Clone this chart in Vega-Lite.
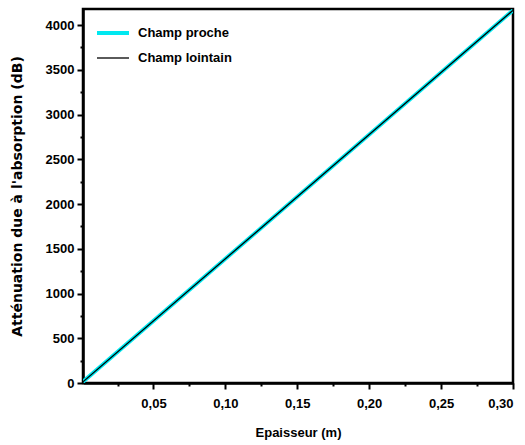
{
  "$schema": "https://vega.github.io/schema/vega-lite/v6.json",
  "width": 430,
  "height": 374,
  "padding": {"left": 83, "top": 9, "right": 12, "bottom": 62},
  "autosize": {"type": "none"},
  "background": "white",
  "config": {
    "font": "Liberation Sans",
    "view": {"stroke": "black", "strokeWidth": 2.5}
  },
  "data": {
    "values": [
      {"x": 0.001, "y": 14, "serie": "Champ proche"},
      {"x": 0.3, "y": 4165, "serie": "Champ proche"},
      {"x": 0.001, "y": 14, "serie": "Champ lointain"},
      {"x": 0.3, "y": 4165, "serie": "Champ lointain"}
    ]
  },
  "mark": {"type": "line", "clip": true},
  "encoding": {
    "x": {
      "field": "x",
      "type": "quantitative",
      "scale": {"domain": [0.001, 0.3], "nice": false, "zero": false},
      "axis": {
        "title": "Epaisseur (m)",
        "titleFont": "Liberation Sans",
        "titleFontSize": 13,
        "titleFontWeight": "bold",
        "titleColor": "black",
        "titlePadding": 16,
        "values": [0.025, 0.05, 0.075, 0.1, 0.125, 0.15, 0.175, 0.2, 0.225, 0.25, 0.275, 0.3],
        "labelExpr": "(round(datum.value*1000) % 50 == 0) ? replace(format(datum.value, '.2f'), '.', ',') : ''",
        "labelFontWeight": "bold",
        "labelFontSize": 13,
        "labelColor": "black",
        "labelPadding": 8,
        "tickColor": "black",
        "tickWidth": 2,
        "tickSize": {"condition": {"test": "round(datum.value*1000) % 50 == 0", "value": 6}, "value": 3},
        "domainColor": "black",
        "domainWidth": 2.5,
        "grid": false
      }
    },
    "y": {
      "field": "y",
      "type": "quantitative",
      "scale": {"domain": [0, 4180], "nice": false},
      "axis": {
        "title": "Atténuation due à l'absorption (dB)",
        "titleFont": "DejaVu Sans",
        "titleFontSize": 14,
        "titleFontWeight": "bold",
        "titleColor": "black",
        "titlePadding": 21,
        "values": [0, 250, 500, 750, 1000, 1250, 1500, 1750, 2000, 2250, 2500, 2750, 3000, 3250, 3500, 3750, 4000],
        "labelExpr": "(datum.value % 500 == 0) ? format(datum.value, 'd') : ''",
        "labelFontWeight": "bold",
        "labelFontSize": 13,
        "labelColor": "black",
        "labelPadding": 3,
        "tickColor": "black",
        "tickWidth": 2,
        "tickSize": {"condition": {"test": "datum.value % 500 == 0", "value": 6}, "value": 3},
        "domainColor": "black",
        "domainWidth": 2.5,
        "grid": false
      }
    },
    "color": {
      "field": "serie",
      "type": "nominal",
      "scale": {"domain": ["Champ proche", "Champ lointain"], "range": ["#00e8f0", "black"]},
      "legend": {
        "title": null,
        "orient": "none",
        "legendX": 12,
        "legendY": 6,
        "symbolType": "stroke",
        "symbolSize": 1024,
        "labelOffset": 7,
        "labelFontSize": 13,
        "labelFontWeight": "bold",
        "labelColor": "black",
        "rowPadding": -8
      }
    },
    "strokeWidth": {
      "field": "serie",
      "type": "nominal",
      "scale": {"domain": ["Champ proche", "Champ lointain"], "range": [4, 1.3]},
      "legend": null
    },
    "order": {"field": "serie", "sort": "descending"}
  }
}
